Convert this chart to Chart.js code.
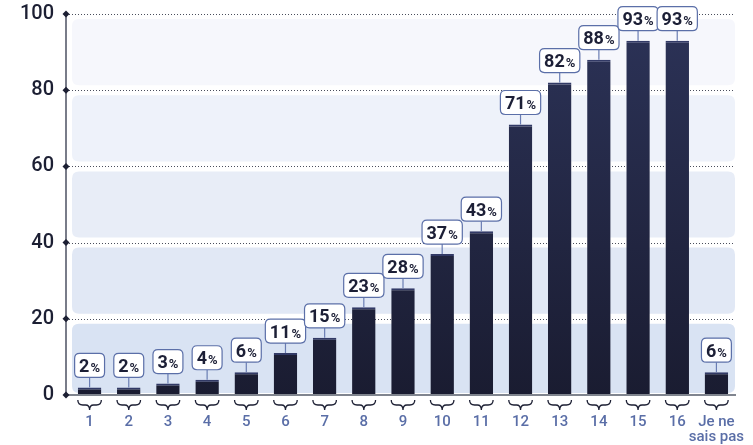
<!DOCTYPE html>
<html>
<head>
<meta charset="utf-8">
<script src="https://cdn.jsdelivr.net/npm/chart.js@4/dist/chart.umd.min.js"></script>
<style>
  html, body { margin: 0; padding: 0; background: #fff; }
  #wrap { width: 753px; height: 445px; }
</style>
</head>
<body>
<div id="wrap"><canvas id="chart" width="753" height="445"></canvas></div>
<script>
const categories = ['1', '2', '3', '4', '5', '6', '7', '8', '9', '10', '11', '12', '13', '14', '15', '16', ['Je ne', 'sais pas']];
const values = [2, 2, 3, 4, 6, 11, 15, 23, 28, 37, 43, 71, 82, 88, 93, 93, 6];
const yTicks = [0, 20, 40, 60, 80, 100];

const bandColors = ['#d9e3f3', '#e1e8f5', '#e8edf7', '#eef2fa', '#f6f7fc'];
const AXIS_X = 66;

function roundRect(ctx, x, y, w, h, r) {
    ctx.beginPath();
    ctx.moveTo(x + r, y);
    ctx.lineTo(x + w - r, y);
    ctx.quadraticCurveTo(x + w, y, x + w, y + r);
    ctx.lineTo(x + w, y + h - r);
    ctx.quadraticCurveTo(x + w, y + h, x + w - r, y + h);
    ctx.lineTo(x + r, y + h);
    ctx.quadraticCurveTo(x, y + h, x, y + h - r);
    ctx.lineTo(x, y + r);
    ctx.quadraticCurveTo(x, y, x + r, y);
    ctx.closePath();
}

const backdrop = {
    id: 'backdrop',
    beforeDatasetsDraw(chart) {
        const { ctx, chartArea, scales } = chart;
        const y = scales.y;
        ctx.save();
        // bands
        for (let i = 0; i < yTicks.length - 1; i++) {
            const top = y.getPixelForValue(yTicks[i + 1]) + 5;
            let bottom = y.getPixelForValue(yTicks[i]) - 5;
            if (i === 0) bottom = y.getPixelForValue(0) - 2;
            ctx.fillStyle = bandColors[i];
            roundRect(ctx, chartArea.left + 2, top, chartArea.right - chartArea.left - 3, bottom - top, 7);
            ctx.fill();
        }
        // dotted grid lines
        ctx.strokeStyle = '#4a4e5c';
        ctx.lineWidth = 1;
        ctx.setLineDash([1, 2]);
        yTicks.forEach((t) => {
            if (t === 0) return;
            const py = Math.round(y.getPixelForValue(t)) + 0.5;
            ctx.beginPath();
            ctx.moveTo(AXIS_X, py);
            ctx.lineTo(chartArea.right - 2, py);
            ctx.stroke();
        });
        ctx.setLineDash([]);
        ctx.restore();
    },
    afterDatasetsDraw(chart) {
        const { ctx, chartArea, scales } = chart;
        const y = scales.y;
        const meta = chart.getDatasetMeta(0);
        const y0 = y.getPixelForValue(0);
        ctx.save();
        // x axis line
        ctx.strokeStyle = '#80858f';
        ctx.lineWidth = 2;
        ctx.beginPath();
        ctx.moveTo(AXIS_X, y0);
        ctx.lineTo(chartArea.right, y0);
        ctx.stroke();
        // y axis line
        ctx.strokeStyle = '#4c5062';
        ctx.lineWidth = 1.5;
        ctx.beginPath();
        ctx.moveTo(AXIS_X, y.getPixelForValue(100));
        ctx.lineTo(AXIS_X, y0);
        ctx.stroke();
        // diamonds
        ctx.fillStyle = '#1c1f33';
        yTicks.forEach((t) => {
            const py = y.getPixelForValue(t);
            ctx.beginPath();
            ctx.moveTo(AXIS_X, py - 3.5);
            ctx.lineTo(AXIS_X + 3.5, py);
            ctx.lineTo(AXIS_X, py + 3.5);
            ctx.lineTo(AXIS_X - 3.5, py);
            ctx.closePath();
            ctx.fill();
        });
        // braces + labels
        meta.data.forEach((bar, i) => {
            const half = bar.width / 2;
            const x0 = bar.x - half, x1 = bar.x + half, xm = bar.x;
            const by = y0 + 5;
            ctx.strokeStyle = '#1c1f33';
            ctx.lineWidth = 1.3;
            ctx.beginPath();
            ctx.moveTo(x0, by);
            ctx.quadraticCurveTo(x0, by + 5, x0 + 5, by + 5);
            ctx.lineTo(xm - 4, by + 5);
            ctx.quadraticCurveTo(xm, by + 5, xm, by + 10);
            ctx.quadraticCurveTo(xm, by + 5, xm + 4, by + 5);
            ctx.lineTo(x1 - 5, by + 5);
            ctx.quadraticCurveTo(x1, by + 5, x1, by);
            ctx.stroke();

            // value label
            const num = String(values[i]);
            ctx.font = 'bold 18px Roboto';
            const wNum = ctx.measureText(num).width;
            ctx.font = 'bold 13px Roboto';
            const wPct = ctx.measureText('%').width;
            const boxW = wNum + wPct + 10;
            const boxH = 24;
            const boxBottom = bar.y - 10;
            const boxTop = boxBottom - boxH;
            ctx.strokeStyle = '#6a7db3';
            ctx.lineWidth = 1.2;
            ctx.beginPath();
            ctx.moveTo(xm, bar.y);
            ctx.lineTo(xm, boxBottom);
            ctx.stroke();
            ctx.fillStyle = '#ffffff';
            roundRect(ctx, xm - boxW / 2, boxTop, boxW, boxH, 5);
            ctx.fill();
            ctx.strokeStyle = '#5b6fa8';
            ctx.stroke();
            ctx.fillStyle = '#1c1f36';
            ctx.textBaseline = 'alphabetic';
            ctx.textAlign = 'left';
            const tx = xm - (wNum + wPct + 1) / 2;
            ctx.font = 'bold 18px Roboto';
            ctx.fillText(num, tx, boxTop + 18.5);
            ctx.font = 'bold 13px Roboto';
            ctx.fillText('%', tx + wNum + 1, boxTop + 18.5);
        });
        ctx.restore();
    }
};

const ctx = document.getElementById('chart').getContext('2d');
new Chart(ctx, {
    type: 'bar',
    data: {
        labels: categories,
        datasets: [{
            data: values,
            backgroundColor: (c) => {
                const area = c.chart.chartArea;
                if (!area) return '#23284a';
                const g = c.chart.ctx.createLinearGradient(0, area.top, 0, area.bottom);
                g.addColorStop(0, '#2c3358');
                g.addColorStop(1, '#1a1c31');
                return g;
            },
            borderColor: '#323a66',
            borderWidth: { top: 2, left: 0, right: 0, bottom: 0 },
            borderSkipped: false,
            barPercentage: 0.6,
            categoryPercentage: 1.0
        }]
    },
    options: {
        responsive: false,
        animation: false,
        layout: { padding: { top: 14, right: 17, left: 0, bottom: 0 } },
        plugins: { legend: { display: false }, tooltip: { enabled: false } },
        scales: {
            x: {
                grid: { display: false, drawTicks: false },
                border: { display: false },
                ticks: {
                    color: '#5a6ea7',
                    font: { family: 'Roboto', size: 15, weight: '500', lineHeight: 1.0 },
                    padding: 20,
                    maxRotation: 0,
                    autoSkip: false
                },
                afterFit(scale) {
                    scale.height = 50;
                    scale.paddingLeft = 0;
                    scale.paddingRight = 0;
                }
            },
            y: {
                min: 0,
                max: 100,
                grid: { display: false, drawTicks: false },
                border: { display: false },
                ticks: {
                    stepSize: 20,
                    color: '#1c1f33',
                    font: { family: 'Roboto', size: 20, weight: '500' },
                    padding: 16
                },
                afterFit(scale) {
                    scale.width = 70;
                    scale.paddingTop = 0;
                    scale.paddingBottom = 0;
                }
            }
        }
    },
    plugins: [backdrop]
});
</script>
</body>
</html>
